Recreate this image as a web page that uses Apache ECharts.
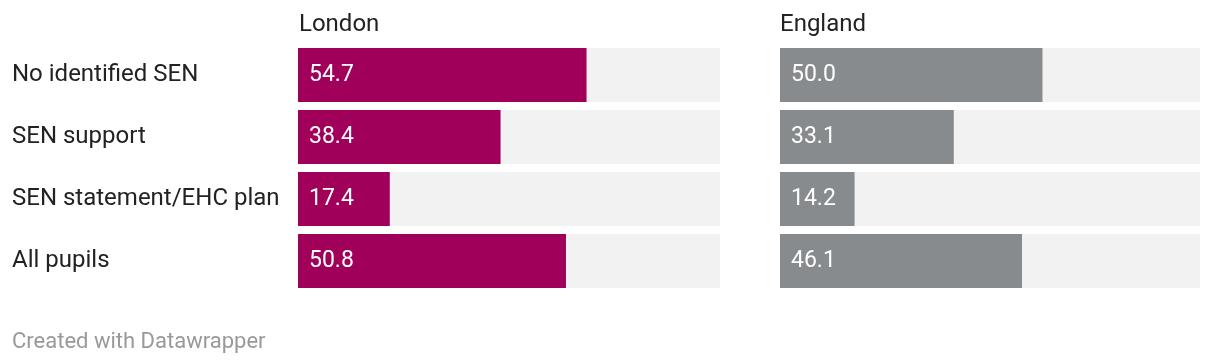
<!DOCTYPE html>
<html><head><meta charset="utf-8">
<script src="https://cdn.jsdelivr.net/npm/echarts@6/dist/echarts.min.js"></script>
<style>html,body{margin:0;padding:0;background:#fff}#c{width:1220px;height:364px}</style>
</head><body><div id="c"></div>
<script>
const categories = ["No identified SEN", "SEN support", "SEN statement/EHC plan", "All pupils"];
const londonValues = [54.7, 38.4, 17.4, 50.8];
const englandValues = [50.0, 33.1, 14.2, 46.1];
const panelTitles = ["London", "England"];
const axisMax = 80;

const chart = echarts.init(document.getElementById('c'), null, {renderer: 'canvas'});
const font = 'Roboto, sans-serif';
function bar(idx, data, color) {
  return {
    type: 'bar', xAxisIndex: idx, yAxisIndex: idx, data: data, barWidth: 54,
    itemStyle: {color: color},
    showBackground: true, backgroundStyle: {color: '#f2f2f2'},
    label: {show: true, position: 'insideLeft', distance: 11, color: '#fff', fontFamily: font, fontSize: 23,
      formatter: p => p.value.toFixed(1)},
    silent: true, animation: false
  };
}
chart.setOption({
  animation: false,
  textStyle: {fontFamily: font},
  title: [
    {text: panelTitles[0], left: 299, top: 13, padding: 0, textStyle: {fontFamily: font, fontSize: 24, fontWeight: 'normal', color: '#222'}},
    {text: panelTitles[1], left: 780, top: 13, padding: 0, textStyle: {fontFamily: font, fontSize: 24, fontWeight: 'normal', color: '#222'}},
    {text: 'Created with Datawrapper', left: 12, top: 331, padding: 0, textStyle: {fontFamily: font, fontSize: 22, fontWeight: 'normal', color: '#999'}}
  ],
  grid: [
    {left: 298, width: 422, top: 44, height: 248},
    {left: 780, width: 420, top: 44, height: 248}
  ],
  xAxis: [0, 1].map(i => ({gridIndex: i, type: 'value', min: 0, max: axisMax, show: false})),
  yAxis: [0, 1].map(i => ({
    gridIndex: i, type: 'category', data: categories, inverse: true,
    axisLine: {show: false}, axisTick: {show: false},
    axisLabel: {show: i === 0, align: 'left', margin: 286, color: '#222', fontFamily: font, fontSize: 24}
  })),
  series: [bar(0, londonValues, '#a0005a'), bar(1, englandValues, '#878b8d')]
});
</script></body></html>
